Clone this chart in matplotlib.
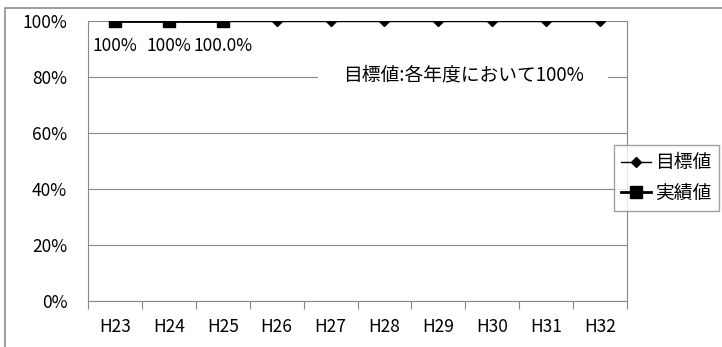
import matplotlib
matplotlib.use("Agg")
import matplotlib.pyplot as plt
from matplotlib.lines import Line2D
import numpy as np

plt.rcParams["font.family"] = ["Noto Sans CJK JP", "DejaVu Sans"]

years = ["H23", "H24", "H25", "H26", "H27", "H28", "H29", "H30", "H31", "H32"]
target = [100, 100, 100, 100, 100, 100, 100, 100, 100, 100]
actual = [100, 100, 100.0]
actual_labels = ["100%", "100%", "100.0%"]
note = "目標値:各年度において100%"

W, H = 722, 347
fig = plt.figure(figsize=(W / 100, H / 100), dpi=100)
# chart-area border (only left and top edges fall inside the image)
fig.add_artist(Line2D([4.5 / W, 4.5 / W, 1.0], [0.0, 1 - 7.5 / H, 1 - 7.5 / H],
                      transform=fig.transFigure, color="#8c8c8c", lw=1.2, zorder=10))
ax = fig.add_axes([88 / W, 1 - 301 / H, (627 - 88) / W, (301 - 21) / H])

x = np.arange(len(years))
ax.plot(x, target, color="black", lw=1.0, marker="D", markersize=5.5, label="目標値", zorder=3)
ax.plot(x[:len(actual)], actual, color="black", lw=2.0, marker="s", markersize=9,
        label="実績値", zorder=4)

for xi, yi, lab in zip(x, actual, actual_labels):
    ax.text(xi, yi - 8.8, lab, ha="center", va="center", fontsize=12.5,
            bbox=dict(facecolor="white", edgecolor="none", pad=1), zorder=5)

ax.text(6.46, 80.7, note, ha="center", va="center", fontsize=13.5,
        bbox=dict(facecolor="white", edgecolor="none", boxstyle="square,pad=1.3"), zorder=5)

ax.set_xlim(-0.5, len(years) - 0.5)
ax.set_ylim(0, 100)
ax.set_yticks(np.arange(0, 101, 20))
ax.set_yticklabels([f"{v}%" for v in range(0, 101, 20)], fontsize=12.5)
ax.set_xticks(np.arange(-0.5, len(years), 1.0))
ax.set_xticklabels([])
ax.set_xticks(x, minor=True)
ax.set_xticklabels(years, minor=True, fontsize=12.5)
ax.tick_params(axis="x", which="major", length=6, color="#888888")
ax.tick_params(axis="x", which="minor", length=0, pad=12)
ax.tick_params(axis="y", length=0, pad=15)
ax.grid(axis="y", color="#888888", lw=0.8)
ax.set_axisbelow(True)
for s in ax.spines.values():
    s.set_color("#888888")
ax.spines["top"].set_visible(False)

leg = ax.legend(loc="center", bbox_to_anchor=(666 / W, 1 - 178 / H),
                bbox_transform=fig.transFigure, fontsize=13.5, frameon=True,
                fancybox=False, edgecolor="#888888", handlelength=1.6,
                handletextpad=0.2, borderpad=0.4, labelspacing=0.5)
leg.get_frame().set_linewidth(1.0)

fig.savefig("out.png", dpi=100)
